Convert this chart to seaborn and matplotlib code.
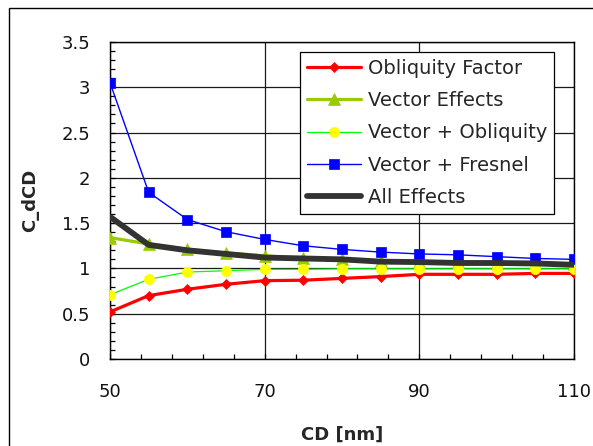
import matplotlib
matplotlib.use("Agg")
import matplotlib.pyplot as plt
from matplotlib.ticker import MultipleLocator, FixedLocator
from matplotlib.patches import Rectangle
import seaborn as sns

# Critical dimension (nm)
cd = [50, 55, 60, 65, 70, 75, 80, 85, 90, 95, 100, 105, 110]

obliquity_factor = [0.52, 0.70, 0.77, 0.825, 0.865, 0.87, 0.89, 0.91, 0.935, 0.935, 0.935, 0.945, 0.945]
vector_effects = [1.34, 1.27, 1.21, 1.17, 1.14, 1.11, 1.10, 1.08, 1.075, 1.07, 1.065, 1.06, 1.05]
vector_obliquity = [0.71, 0.88, 0.96, 0.975, 0.99, 0.99, 0.995, 0.995, 0.995, 0.995, 0.995, 0.995, 0.995]
vector_fresnel = [3.05, 1.84, 1.54, 1.405, 1.32, 1.25, 1.21, 1.18, 1.16, 1.15, 1.13, 1.11, 1.10]
all_effects = [1.57, 1.26, 1.20, 1.16, 1.12, 1.11, 1.10, 1.075, 1.07, 1.06, 1.06, 1.055, 1.04]

series_names = ["Obliquity Factor", "Vector Effects", "Vector + Obliquity",
                "Vector + Fresnel", "All Effects"]

x_ticks = [50, 70, 90, 110]

sns.set_style("white")
plt.rcParams["font.family"] = ["DejaVu Sans"]

fig = plt.figure(figsize=(5.93, 4.46), dpi=100)
ax = fig.add_axes([0.1855, 0.195, 0.7825, 0.711])

styles = [
    (obliquity_factor, dict(color="#FF0000", lw=2.3, marker="D", ms=5.6,
                            mfc="#FF0000", mec="#FF0000", mew=0.5)),
    (vector_effects, dict(color="#99CC00", lw=2.3, marker="^", ms=8.6,
                          mfc="#99CC00", mec="#99CC00", mew=0.5)),
    (vector_obliquity, dict(color="#00FF00", lw=0.9, marker="o", ms=7.4,
                            mfc="#FFFF00", mec="#FFFF00", mew=0.5)),
    (vector_fresnel, dict(color="#0000FF", lw=1.0, marker="s", ms=6.6,
                          mfc="#0000FF", mec="#0000FF", mew=0.5)),
    (all_effects, dict(color="#333333", lw=4.2, marker=None)),
]

for (vals, kw), name in zip(styles, series_names):
    sns.lineplot(x=cd, y=vals, ax=ax, label=name, zorder=3, **kw)

ax.set_xlim(50, 110)
ax.set_ylim(0, 3.5)
ax.xaxis.set_major_locator(FixedLocator(x_ticks))
ax.xaxis.set_minor_locator(FixedLocator(list(range(50, 111, 4))))
ax.yaxis.set_major_locator(MultipleLocator(0.5))
ax.yaxis.set_minor_locator(MultipleLocator(0.1))
ax.yaxis.set_major_formatter(plt.FuncFormatter(lambda v, p: f"{v:g}"))

ax.grid(True, which="major", color="#1a1a1a", lw=0.9)
ax.set_axisbelow(True)
ax.tick_params(which="both", direction="in", color="black", width=0.9,
               length=3.8, labelsize=13, labelcolor="#111111")
ax.tick_params(axis="x", which="both", pad=17, top=False, bottom=True)
ax.tick_params(axis="y", which="both", pad=14, right=False, left=True)

for sp in ax.spines.values():
    sp.set_color("black")
    sp.set_linewidth(1.0)

ax.set_xlabel("CD [nm]", fontsize=13, fontweight="bold", labelpad=18)
ax.set_ylabel("C_dCD", fontsize=13, fontweight="bold", labelpad=16)

leg = ax.legend(loc="upper right", bbox_to_anchor=(0.957, 0.968),
                borderaxespad=0, fontsize=14, frameon=True, fancybox=False,
                framealpha=1, edgecolor="black", handlelength=2.8,
                handletextpad=0.35, labelspacing=0.68, borderpad=0.35,
                numpoints=1)
leg.get_frame().set_linewidth(0.9)
leg.set_zorder(5)

# Chart-area border
fig.patches.append(Rectangle((9 / 593, -0.1), 1.2, 1 - 8 / 446 + 0.1,
                             transform=fig.transFigure, fill=False,
                             edgecolor="black", lw=1.0))

fig.savefig("out.png", dpi=100)
